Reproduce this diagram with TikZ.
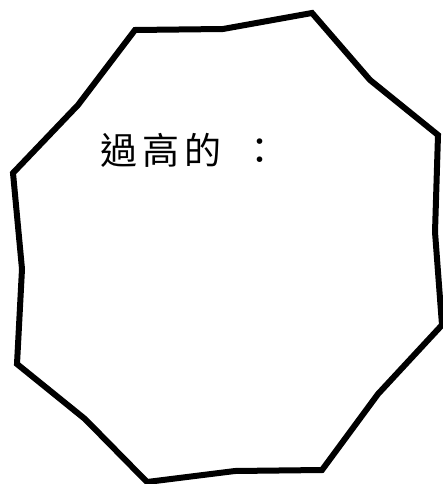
\documentclass[tikz,border=0pt]{standalone}
\usepackage{fontspec}
\newfontfamily\cjk[LetterSpace=14]{Noto Sans CJK TC}
\usetikzlibrary{positioning}

\begin{document}
\begin{tikzpicture}[
  x=1pt,y=-1pt,
  outline/.style={draw=black,line width=6pt,line join=miter},
  label/.style={font=\cjk\fontsize{37}{40}\selectfont,inner sep=0pt,anchor=west},
]

\useasboundingbox (0,0) rectangle (443,484);

% irregular outline
\draw[outline] (135,30) -- (223,29) -- (312,13) -- (370,80) -- (438,135)
  -- (435,232) -- (442,325) -- (378,394) -- (322,470) -- (235,471)
  -- (147,482) -- (85,419) -- (17,364) -- (22,269) -- (13,173)
  -- (78,105) -- cycle;

% text
\node[label] (txt) at (100,150) {過高的\hspace{20pt}：};

\end{tikzpicture}
\end{document}
